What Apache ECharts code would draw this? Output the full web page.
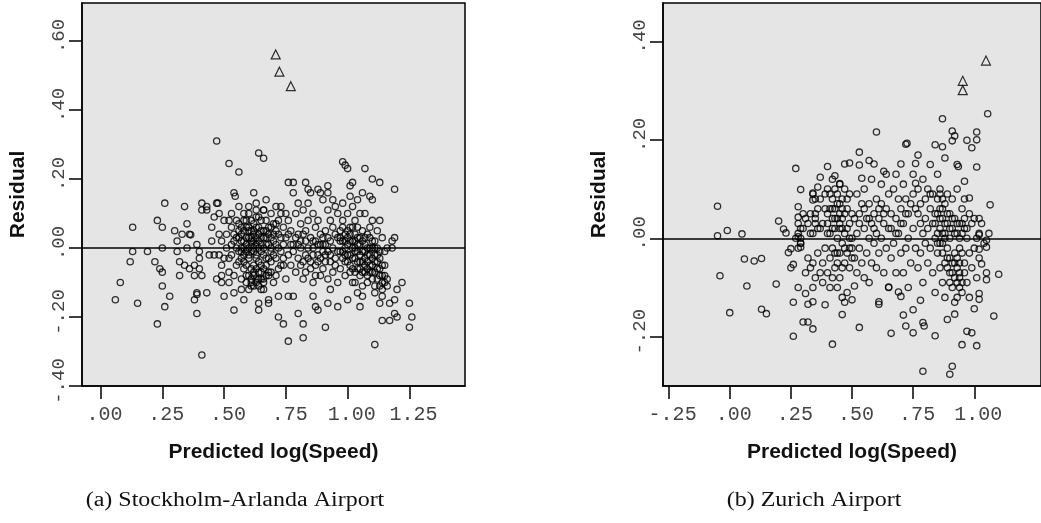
<!DOCTYPE html>
<html><head><meta charset="utf-8">
<script src="https://cdn.jsdelivr.net/npm/echarts@6/dist/echarts.min.js"></script>
<style>html,body{margin:0;padding:0;background:#fff}#c{width:1041px;height:523px}</style>
</head><body><div id="c"></div>
<script>
// ---- data ----
const stockholmPoints = [
[0.06,-0.15],[0.08,-0.10],[0.13,0.06],[0.13,-0.01],[0.12,-0.04],[0.15,-0.16],[0.19,-0.01],
[0.22,-0.04],[0.23,0.08],[0.23,-0.22],[0.25,0.06],[0.25,0.00],[0.24,-0.06],[0.25,-0.07],[0.25,-0.11],[0.26,0.13],[0.26,-0.17],[0.28,-0.14],[0.30,0.05],
[0.31,0.02],[0.31,-0.01],[0.32,-0.04],[0.32,-0.08],[0.33,0.04],[0.34,-0.05],[0.34,0.12],[0.35,0.00],[0.35,0.07],[0.36,0.04],[0.365,0.038],[0.36,-0.06],[0.38,-0.08],[0.38,-0.05],[0.38,-0.15],[0.39,-0.13],[0.39,-0.135],[0.39,0.01],[0.39,-0.19],[0.40,-0.01],[0.40,-0.06],
[0.40,-0.03],[0.41,0.13],[0.41,0.11],[0.41,-0.08],[0.41,-0.31],[0.43,0.12],[0.43,0.11],[0.43,-0.13],[0.44,-0.02],[0.45,0.06],[0.45,0.02],[0.46,-0.02],[0.46,0.09],[0.47,0.13],[0.475,0.13],[0.47,-0.09],[0.48,0.04],[0.48,-0.02],[0.48,0.10],[0.49,-0.08],[0.49,-0.05],[0.49,-0.10],[0.49,0.02],[0.50,-0.14],[0.50,0.08],[0.50,-0.03],
[0.47,0.31],[0.64,0.275],[0.66,0.26],[0.52,0.245],[0.56,0.22],[0.54,0.16],[0.545,0.15],
[0.51,0.00],[0.51,0.04],[0.52,-0.03],[0.52,0.08],[0.52,-0.07],[0.52,-0.10],[0.53,0.10],[0.53,-0.02],[0.53,0.06],[0.54,-0.08],[0.54,-0.13],[0.54,-0.18],[0.54,0.02],[0.55,0.08],[0.55,-0.05],[0.56,-0.01],[0.56,0.05],[0.56,0.12],[0.57,-0.09],[0.57,-0.03],[0.57,0.04],[0.57,-0.12],[0.57,0.00],[0.58,0.08],[0.58,-0.15],[0.58,0.02],[0.58,-0.04],[0.59,0.06],[0.59,-0.08],[0.59,-0.01],[0.60,0.10],[0.60,0.03],
[0.60,-0.03],[0.61,0.05],[0.61,-0.09],[0.61,0.01],[0.61,0.08],[0.62,-0.05],[0.62,0.16],[0.62,0.02],[0.62,-0.11],[0.62,0.04],[0.63,0.13],[0.63,-0.03],[0.63,0.09],[0.64,-0.07],[0.64,0.00],[0.64,-0.16],[0.64,-0.18],[0.64,0.06],[0.65,-0.12],[0.65,0.03],[0.65,-0.05],[0.66,0.11],[0.66,-0.02],[0.66,-0.09],[0.66,0.05],[0.67,0.14],[0.67,-0.03],[0.67,0.01],[0.67,0.08],[0.68,-0.15],[0.68,-0.16],[0.68,-0.07],[0.68,0.04],[0.69,-0.01],[0.69,0.10],[0.69,-0.04],[0.69,0.06],[0.70,-0.10],
[0.70,0.02],[0.71,0.12],[0.71,-0.03],[0.71,0.07],[0.71,-0.08],[0.72,-0.20],[0.72,0.00],[0.72,0.04],[0.72,-0.14],[0.73,0.10],[0.73,-0.05],[0.73,0.12],[0.74,0.01],[0.74,-0.22],[0.74,0.06],[0.74,-0.03],[0.75,-0.09],[0.75,0.10],[0.75,0.03],[0.76,-0.02],[0.76,0.08],[0.76,-0.14],[0.76,-0.27],[0.76,0.19],[0.77,0.01],[0.77,-0.05],[0.77,0.05],[0.78,0.19],[0.78,0.16],[0.78,-0.01],[0.78,-0.14],[0.79,0.10],[0.79,-0.07],[0.79,0.03],[0.80,-0.03],[0.80,0.13],
[0.80,-0.19],[0.81,0.00],[0.81,0.07],[0.81,-0.05],[0.81,0.02],[0.82,-0.09],[0.82,0.11],[0.82,-0.26],[0.82,-0.22],[0.83,0.19],[0.83,-0.02],[0.83,0.05],[0.83,-0.07],[0.84,0.13],[0.84,0.00],[0.84,0.08],[0.84,0.17],[0.85,-0.04],[0.85,0.03],[0.85,0.16],[0.86,-0.10],[0.86,-0.14],[0.86,0.10],[0.86,-0.02],[0.87,-0.17],[0.87,0.06],[0.87,-0.05],[0.88,0.01],[0.88,-0.18],[0.88,0.17],[0.88,0.08],[0.89,0.16],[0.89,-0.03],[0.89,-0.08],[0.89,0.04],[0.90,-0.01],
[0.90,0.14],[0.90,-0.06],[0.91,0.05],[0.91,-0.02],[0.91,-0.23],[0.92,0.18],[0.92,0.11],[0.92,-0.09],[0.92,0.16],[0.92,-0.16],[0.93,-0.12],[0.93,0.02],[0.93,0.08],[0.93,-0.04],[0.94,0.14],[0.94,0.00],[0.94,-0.07],[0.94,0.06],[0.95,0.12],[0.95,-0.03],[0.95,0.04],[0.96,-0.10],[0.96,-0.17],[0.96,0.10],[0.96,-0.01],[0.97,0.05],[0.97,-0.06],[0.97,0.02],[0.98,0.13],[0.98,-0.03],[0.98,0.25],[0.98,0.08],[0.99,0.24],[0.99,0.00],[0.99,-0.08],[0.99,0.04],[1.00,0.10],
[1.00,0.23],[1.00,-0.02],[1.00,-0.15],[1.01,0.15],[1.01,0.18],[1.01,0.06],[1.01,-0.05],[1.01,0.02],[1.02,-0.10],[1.02,0.19],[1.02,0.12],[1.02,-0.03],[1.03,0.04],[1.03,-0.07],[1.03,0.08],[1.03,-0.01],[1.04,-0.13],[1.04,0.14],[1.04,-0.04],[1.04,0.03],[1.05,0.10],[1.05,-0.17],[1.05,-0.02],[1.05,-0.08],[1.06,0.16],[1.06,0.05],[1.06,-0.14],[1.07,0.23],[1.07,-0.03],[1.07,0.01],[1.07,0.10],[1.08,-0.06],[1.08,0.04],[1.08,-0.10],[1.09,0.15],[1.09,-0.02],[1.09,0.06],[1.10,-0.07],[1.10,0.14],[1.10,0.00],
[1.10,0.08],[1.10,0.20],[1.11,-0.04],[1.11,-0.11],[1.11,-0.28],[1.11,0.02],[1.11,-0.13],[1.12,-0.06],[1.12,-0.02],[1.12,0.05],[1.13,-0.08],[1.13,0.08],[1.13,-0.16],[1.13,0.19],[1.13,-0.03],[1.14,-0.21],[1.14,0.03],[1.14,-0.10],[1.14,-0.05],[1.14,-0.14],[1.15,-0.01],[1.15,-0.08],[1.16,-0.11],[1.16,0.00],[1.17,-0.16],[1.17,-0.21],[1.18,0.02],[1.18,0.00],[1.19,0.03],[1.19,-0.15],[1.19,0.17],[1.19,-0.19],[1.20,-0.20],[1.20,-0.12],
[1.22,-0.10],[1.25,-0.16],[1.26,-0.20],[1.25,-0.23],
[0.56,0.03],[0.57,-0.01],[0.58,0.05],[0.59,0.01],[0.60,-0.02],[0.60,0.06],[0.61,0.02],[0.62,-0.01],[0.62,0.07],[0.63,0.03],[0.63,-0.06],[0.64,0.04],[0.64,-0.09],[0.65,0.01],[0.65,-0.07],[0.66,0.03],[0.66,-0.10],[0.67,-0.05],[0.67,0.05],[0.68,0.01],[0.68,-0.08],[0.69,0.03],[0.62,-0.08],[0.63,-0.10],[0.61,-0.11],[0.60,-0.08],[0.59,0.08],[0.58,-0.06],[0.65,0.08],[0.66,0.11],[0.70,-0.02],[0.71,0.05],
[0.97,-0.01],[0.98,0.02],[0.99,-0.04],[1.00,0.01],[1.00,0.05],[1.01,-0.02],[1.02,0.00],[1.02,-0.06],[1.03,0.02],[1.04,-0.01],[1.04,-0.06],[1.05,0.01],[1.05,-0.04],[1.06,-0.01],[1.06,-0.07],[1.07,-0.05],[1.07,0.03],[1.08,-0.02],[1.08,-0.08],[1.09,0.00],[1.09,-0.05],[1.10,-0.03],[1.10,-0.09],[1.11,0.00],[1.12,-0.04],[1.13,-0.06],[1.14,-0.08],[1.15,-0.05],[1.03,-0.10],[1.06,-0.11],[0.96,0.03],[0.95,-0.05],
[0.82,0.04],[0.84,-0.03],[0.86,0.02],[0.88,-0.04],[0.90,0.01],[0.92,-0.01],[0.78,0.01],[0.80,0.04],[0.76,0.04],[0.74,-0.05],
[0.53,0.01],[0.54,0.04],[0.55,0.00],[0.55,0.03],[0.56,-0.04],[0.56,0.07],[0.57,0.02],[0.57,0.06],[0.58,-0.02],[0.58,0.00],[0.59,0.03],[0.59,-0.05],[0.60,0.00],[0.60,0.05],[0.61,-0.01],[0.61,0.03],[0.61,-0.06],[0.62,0.00],[0.62,0.05],[0.63,0.01],[0.63,0.06],[0.63,-0.02],[0.64,0.02],[0.64,-0.04],[0.65,-0.01],[0.65,0.05],[0.66,0.00],[0.66,-0.06],[0.67,0.03],[0.67,-0.08],[0.68,0.06],[0.68,-0.03],[0.69,0.00],[0.69,-0.07],[0.70,0.04],[0.70,0.07],[0.71,0.01],[0.72,-0.06],[0.72,0.08],[0.73,0.03],[0.73,-0.01],[0.62,-0.07],[0.63,-0.09],[0.64,-0.11],[0.65,-0.09],[0.66,-0.12],[0.61,-0.10],[0.60,-0.12],[0.59,-0.10],[0.63,0.11],[0.64,0.09],[0.60,0.12],[0.58,0.10],
[0.97,0.03],[0.98,-0.01],[0.98,0.06],[0.99,0.02],[0.99,-0.02],[1.00,-0.04],[1.00,0.03],[1.01,0.04],[1.01,-0.07],[1.02,0.02],[1.02,0.06],[1.03,-0.03],[1.03,0.00],[1.04,0.01],[1.04,0.06],[1.05,-0.06],[1.05,0.03],[1.06,0.02],[1.06,-0.04],[1.07,-0.01],[1.07,-0.07],[1.08,0.00],[1.08,-0.04],[1.09,-0.07],[1.09,0.03],[1.10,-0.05],[1.10,0.02],[1.11,-0.02],[1.11,-0.07],[1.12,-0.09],[1.12,0.00],[1.13,-0.01],[1.13,-0.11],[1.14,-0.12],[1.15,-0.10],[1.16,-0.09],
[0.86,0.00],[0.87,0.02],[0.88,-0.02],[0.89,0.01],[0.90,0.03],[0.91,-0.04],[0.91,0.01],[0.92,0.03],[0.93,-0.02],[0.85,-0.06],[0.87,-0.08],[0.83,0.02],[0.80,0.01],[0.82,-0.04]
];
const stockholmOutliers = [[0.709,0.561],[0.724,0.511],[0.770,0.469]];

const zurichPoints = [
[-0.05,0.065],[-0.05,0.005],[-0.01,0.016],[-0.04,-0.076],[0.00,-0.151],[0.05,0.009],[0.06,-0.042],[0.10,-0.046],[0.07,-0.097],[0.13,-0.041],[0.13,-0.144],[0.15,-0.153],[0.20,0.035],[0.19,-0.093],
[0.22,0.019],[0.23,0.011],[0.24,-0.029],[0.25,-0.021],[0.25,-0.060],[0.26,-0.130],[0.26,-0.199],[0.26,-0.053],[0.27,0.142],[0.28,-0.100],[0.28,0.064],[0.29,0.099],[0.28,0.003],[0.28,0.043],[0.29,-0.018],[0.29,0.000],[0.29,-0.010],
[0.30,-0.170],[0.32,-0.170],[0.31,-0.112],[0.32,-0.134],[0.34,-0.184],[0.34,-0.129],[0.34,0.092],[0.34,0.078],[0.35,0.040],[0.37,0.124],[0.36,0.104],[0.39,-0.135],[0.40,0.146],[0.42,-0.215],[0.43,0.127],[0.45,0.111],[0.46,-0.155],[0.47,0.151],[0.49,0.153],[0.50,-0.125],[0.51,-0.097],[0.53,-0.181],[0.53,0.175],[0.53,0.149],[0.54,0.122],[0.57,0.158],[0.59,0.151],[0.60,0.216],[0.61,-0.129],[0.61,-0.134],[0.63,0.136],[0.65,-0.099],[0.66,-0.193],[0.69,-0.109],[0.70,0.151],[0.70,-0.118],[0.71,-0.156],[0.72,0.191],[0.725,0.193],[0.72,-0.178],[0.75,-0.192],[0.75,-0.145],[0.76,0.152],[0.76,0.112],[0.77,0.169],[0.78,-0.126],[0.79,-0.171],[0.795,-0.178],[0.79,-0.270],[0.84,-0.198],[0.84,0.190],[0.87,0.243],[0.87,0.186],[0.88,0.163],[0.90,-0.276],[0.91,-0.260],[0.91,0.218],[0.91,0.198],[0.92,0.208],[0.89,-0.165],[0.92,-0.154],[0.93,0.150],[0.935,0.146],[0.95,-0.216],[0.96,0.116],[0.97,0.199],[0.98,0.082],[0.97,-0.189],[0.99,0.184],[0.99,-0.192],[1.01,0.216],[1.01,0.200],[1.01,0.145],[1.01,-0.218],[1.00,-0.143],[1.02,-0.112],[1.02,-0.124],[1.03,-0.052],[1.05,-0.018],[1.055,0.253],[1.065,0.068],[1.05,-0.084],[1.05,-0.004],[1.08,-0.158],[1.10,-0.073],[1.02,0.040],[1.02,0.007],[1.02,-0.022],
[0.27,0.00],[0.28,-0.02],[0.28,0.03],[0.29,-0.01],[0.30,0.02],[0.30,0.05],[0.31,0.04],[0.31,-0.07],[0.32,0.03],[0.32,-0.04],[0.33,0.05],[0.33,-0.06],[0.34,0.09],[0.34,0.01],[0.34,-0.05],[0.34,-0.10],[0.35,0.03],[0.35,0.08],[0.35,-0.08],[0.36,0.06],[0.36,-0.03],[0.37,-0.07],[0.37,0.02],[0.37,0.08],
[0.38,0.03],[0.38,-0.05],[0.38,-0.09],[0.39,0.06],[0.39,-0.02],[0.39,0.09],[0.40,0.01],[0.40,-0.07],[0.40,0.05],[0.41,-0.04],[0.41,0.09],[0.41,-0.10],[0.42,0.02],[0.42,0.06],[0.42,-0.02],[0.43,0.10],[0.43,0.04],[0.43,-0.06],[0.44,0.00],[0.44,0.07],[0.44,-0.03],[0.45,0.05],[0.45,-0.08],[0.45,0.02],[0.46,0.08],[0.46,-0.01],[0.46,0.04],[0.47,-0.05],[0.47,0.10],[0.47,0.01],[0.48,0.06],[0.48,-0.03],[0.48,-0.11],[0.49,0.03],[0.49,0.09],[0.49,-0.06],[0.50,0.00],[0.50,0.05],[0.50,-0.02],[0.45,0.11],[0.42,0.12],[0.40,0.10],[0.44,-0.10],[0.46,-0.12],[0.47,-0.13],
[0.51,0.04],[0.51,-0.04],[0.52,0.09],[0.52,0.01],[0.52,-0.07],[0.53,0.05],[0.53,-0.02],[0.54,0.07],[0.54,-0.05],[0.55,0.02],[0.55,0.10],[0.55,-0.08],[0.56,0.04],[0.56,-0.03],[0.57,0.07],[0.57,0.00],[0.57,-0.09],[0.58,0.03],[0.58,0.12],[0.58,-0.05],[0.59,0.05],[0.59,-0.01],[0.60,0.08],[0.60,0.01],[0.60,-0.06],[0.61,0.04],[0.61,-0.03],[0.62,0.07],[0.62,0.11],[0.62,0.00],[0.63,0.03],[0.63,-0.07],[0.64,0.06],[0.64,0.13],[0.64,-0.02],[0.65,0.02],[0.65,0.09],[0.65,-0.10],
[0.66,0.05],[0.66,-0.04],[0.67,0.10],[0.67,-0.01],[0.68,0.04],[0.68,0.13],[0.68,-0.07],[0.69,0.08],[0.69,0.01],[0.70,0.06],[0.70,-0.03],[0.71,0.11],[0.71,0.03],[0.71,-0.07],[0.72,0.08],[0.72,-0.02],[0.73,0.05],[0.73,0.00],[0.73,-0.10],[0.74,0.07],[0.74,-0.05],[0.75,0.02],[0.75,0.13],[0.76,-0.02],[0.76,0.06],[0.77,0.10],[0.77,-0.06],[0.78,0.03],[0.78,0.07],[0.78,-0.03],[0.79,0.01],[0.79,0.12],[0.79,-0.09],[0.80,0.04],[0.80,-0.01],
[0.81,0.02],[0.81,0.10],[0.81,-0.05],[0.82,0.06],[0.82,-0.02],[0.82,0.15],[0.83,0.03],[0.83,-0.07],[0.83,0.09],[0.84,0.00],[0.84,-0.11],[0.84,0.05],[0.85,0.08],[0.85,-0.03],[0.85,0.13],[0.86,0.02],[0.86,-0.06],[0.86,0.10],[0.87,0.04],[0.87,-0.01],[0.87,-0.09],[0.88,0.07],[0.88,0.00],[0.88,-0.12],[0.89,0.03],[0.89,-0.04],[0.89,0.09],[0.90,-0.07],[0.90,0.05],[0.90,0.00],[0.91,0.08],[0.91,-0.10],[0.91,0.02],[0.92,-0.03],[0.92,0.04],[0.92,-0.13],[0.93,0.01],[0.93,-0.06],[0.93,0.10],[0.94,0.03],[0.94,-0.08],[0.94,-0.02],[0.95,0.06],[0.95,-0.11],[0.95,0.01],[0.86,0.09],[0.87,0.06],[0.88,0.03],[0.89,-0.06],[0.90,-0.09],[0.91,-0.05],[0.92,-0.08],[0.93,-0.09],[0.94,-0.05],[0.85,0.01],[0.86,-0.01],[0.87,0.01],
[0.96,0.04],[0.96,-0.05],[0.96,0.08],[0.97,0.00],[0.97,-0.09],[0.97,0.02],[0.98,0.05],[0.98,-0.03],[0.98,-0.12],[0.99,0.03],[0.99,-0.06],[1.00,0.04],[1.00,-0.02],[1.01,0.00],[1.01,-0.08],[1.02,0.01],[1.02,-0.04],[1.03,0.03],[1.04,-0.01],[1.05,-0.07],[1.06,0.01],
[0.40,0.03],[0.41,0.06],[0.41,0.01],[0.42,0.04],[0.42,0.08],[0.43,0.02],[0.43,0.06],[0.44,0.04],[0.44,0.09],[0.45,0.03],[0.45,0.07],[0.46,0.06],[0.46,0.02],[0.47,0.05],[0.47,-0.02],[0.48,0.02],[0.48,0.08],[0.49,0.00],[0.49,-0.02],[0.50,-0.04],[0.44,-0.05],[0.45,-0.03],[0.46,-0.06],[0.43,-0.03],[0.42,-0.08],
[0.84,0.03],[0.85,0.05],[0.85,-0.01],[0.86,0.04],[0.86,0.06],[0.87,-0.03],[0.87,0.08],[0.88,-0.05],[0.88,0.01],[0.89,-0.02],[0.89,0.05],[0.90,-0.04],[0.90,0.02],[0.91,-0.07],[0.91,0.04],[0.92,-0.05],[0.92,0.01],[0.93,-0.04],[0.93,0.03],[0.94,-0.07],[0.94,0.00],[0.95,-0.09],[0.95,-0.03],[0.96,-0.07],[0.96,0.02],[0.93,-0.12],[0.94,-0.10],[0.95,0.03],
[0.28,0.01],[0.29,0.02],[0.33,0.01],[0.35,0.05],[0.36,0.02],[0.53,0.03],[0.55,0.06],[0.57,0.04],[0.59,0.02],[0.61,0.06],[0.63,0.05],[0.66,0.02],[0.68,0.01],[0.70,0.03],[0.72,0.05],[0.75,0.09],[0.77,0.05],[0.80,0.08],[0.82,0.09]
];
const zurichOutliers = [[0.953,0.320],[0.953,0.301],[1.048,0.361]];

const stockholmXTicks = [0, 0.25, 0.5, 0.75, 1, 1.25];
const stockholmXLabels = ['.00', '.25', '.50', '.75', '1.00', '1.25'];
const stockholmYTicks = [-0.4, -0.2, 0, 0.2, 0.4, 0.6];
const stockholmYLabels = ['-.40', '-.20', '.00', '.20', '.40', '.60'];
const zurichXTicks = [-0.25, 0, 0.25, 0.5, 0.75, 1];
const zurichXLabels = ['-.25', '.00', '.25', '.50', '.75', '1.00'];
const zurichYTicks = [-0.2, 0, 0.2, 0.4];
const zurichYLabels = ['-.20', '.00', '.20', '.40'];
const xTitle = 'Predicted log(Speed)';
const yTitle = 'Residual';
const captions = ['(a) Stockholm-Arlanda Airport', '(b) Zurich Airport'];

// ---- chart ----
const titleStyle = {fontFamily: 'Liberation Sans, Arial, sans-serif', fontWeight: 'bold', fontSize: 21, color: '#111'};
const tickLine = {color: '#000', width: 1.5};
function labelFor(ticks, labels) {
  return v => { const i = ticks.findIndex(t => Math.abs(t - v) < 1e-9); return i >= 0 ? labels[i] : ''; };
}
function makeX(gi, min, max, ticks, labels) {
  return {
    type: 'value', gridIndex: gi, min: min, max: max,
    name: xTitle, nameLocation: 'middle', nameGap: 56, nameTextStyle: titleStyle,
    axisLine: {show: true, onZero: false, lineStyle: tickLine},
    splitLine: {show: false},
    axisTick: {show: true, inside: false, length: 13, customValues: ticks, lineStyle: tickLine},
    axisLabel: {customValues: ticks, margin: 19, padding: [0, 0, 0, 8], fontFamily: 'Liberation Mono, monospace', fontSize: 20, color: '#444', formatter: labelFor(ticks, labels)}
  };
}
function makeY(gi, min, max, ticks, labels) {
  return {
    type: 'value', gridIndex: gi, min: min, max: max,
    name: yTitle, nameLocation: 'middle', nameGap: 53, nameRotate: 90, nameTextStyle: titleStyle,
    axisLine: {show: true, onZero: false, lineStyle: tickLine},
    splitLine: {show: false},
    axisTick: {show: true, inside: false, length: 13, customValues: ticks, lineStyle: tickLine},
    axisLabel: {customValues: ticks, rotate: 90, margin: 14, padding: [0, 0, 0, 10], fontFamily: 'Liberation Mono, monospace', fontSize: 19, color: '#444', formatter: labelFor(ticks, labels)}
  };
}
function circles(gi, data) {
  return {
    type: 'scatter', xAxisIndex: gi, yAxisIndex: gi, data: data, symbol: 'circle', symbolSize: 6.3,
    itemStyle: {color: 'rgba(0,0,0,0)', borderColor: '#000', borderWidth: 1.3},
    markLine: {silent: true, symbol: ['none', 'none'], label: {show: false}, animation: false,
      lineStyle: {color: '#000', width: 1.5, type: 'solid'}, data: [{yAxis: 0}]},
    z: 3
  };
}
function triangles(gi, data) {
  return {
    type: 'scatter', xAxisIndex: gi, yAxisIndex: gi, data: data, symbol: 'triangle', symbolSize: 9,
    itemStyle: {color: 'rgba(0,0,0,0)', borderColor: '#000', borderWidth: 1.2}, z: 3
  };
}
const gridStyle = {show: true, backgroundColor: '#e5e5e5', borderColor: '#000', borderWidth: 1.5, containLabel: false};
const chart = echarts.init(document.getElementById('c'), null, {renderer: 'canvas'});
chart.setOption({
  animation: false,
  backgroundColor: '#fff',
  grid: [
    Object.assign({left: 82, top: 3, width: 383, height: 383}, gridStyle),
    Object.assign({left: 663, top: 3, width: 397, height: 383}, gridStyle)
  ],
  xAxis: [
    makeX(0, -0.075, 1.475, stockholmXTicks, stockholmXLabels),
    makeX(1, -0.273, 1.273, zurichXTicks, zurichXLabels)
  ],
  yAxis: [
    makeY(0, -0.40, 0.71, stockholmYTicks, stockholmYLabels),
    makeY(1, -0.30, 0.478, zurichYTicks, zurichYLabels)
  ],
  series: [
    circles(0, stockholmPoints), triangles(0, stockholmOutliers),
    circles(1, zurichPoints), triangles(1, zurichOutliers)
  ],
  graphic: [
    {type: 'text', x: 235, y: 501, scaleX: 1.2, style: {text: captions[0], textAlign: 'center', textVerticalAlign: 'middle', font: '20px "Liberation Serif", serif', fill: '#111'}},
    {type: 'text', x: 814, y: 501, scaleX: 1.2, style: {text: captions[1], textAlign: 'center', textVerticalAlign: 'middle', font: '20px "Liberation Serif", serif', fill: '#111'}}
  ]
});
</script></body></html>
